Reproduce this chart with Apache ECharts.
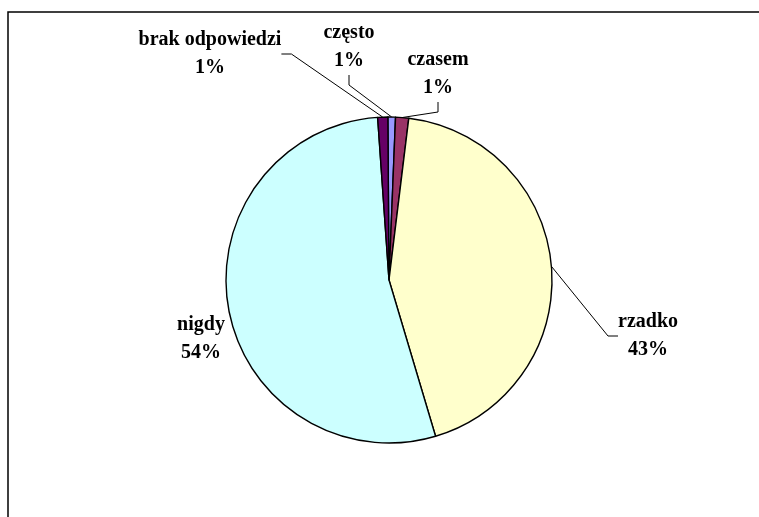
<!DOCTYPE html>
<html><head><meta charset="utf-8">
<script src="https://cdn.jsdelivr.net/npm/echarts@6/dist/echarts.min.js"></script>
<style>html,body{margin:0;padding:0;background:#fff}#c{width:759px;height:517px}</style>
</head><body><div id="c"></div>
<script>
const categories = ['często', 'czasem', 'rzadko', 'nigdy', 'brak odpowiedzi'];
const values = [0.75, 1.3, 43.45, 53.5, 1.0];
const colors = ['#9999FF', '#993366', '#FFFFCC', '#CCFFFF', '#660066'];
// label anchor centres (annotation placement)
const labelPos = [[349, 47], [438, 74], [648, 336], [201, 339], [210, 54]];

const chart = echarts.init(document.getElementById('c'), null, {renderer: 'canvas'});
chart.setOption({
  animation: false,
  graphic: [{
    type: 'rect', shape: {x: 8, y: 12, width: 900, height: 700},
    style: {fill: 'none', stroke: '#000', lineWidth: 1.5}, silent: true
  }],
  series: [{
    type: 'pie',
    center: [389, 280],
    radius: 163,
    startAngle: 90.4,
    clockwise: true,
    avoidLabelOverlap: false,
    itemStyle: {borderColor: '#000', borderWidth: 1.4},
    label: {
      show: true,
      formatter: p => p.name + '\n' + Math.round(p.value) + '%',
      fontFamily: 'Liberation Serif',
      fontWeight: 'bold',
      fontSize: 20,
      lineHeight: 28,
      color: '#000',
      align: 'center'
    },
    labelLine: {show: true, lineStyle: {color: '#000', width: 1}, length: 10, length2: 10},
    labelLayout: function (params) {
      const p = labelPos[params.dataIndex];
      return {x: p[0], y: p[1], align: 'center', verticalAlign: 'middle'};
    },
    data: categories.map((n, i) => ({
      name: n, value: values[i],
      itemStyle: {color: colors[i]},
      labelLine: {show: n !== 'nigdy'}
    }))
  }]
});
</script></body></html>
